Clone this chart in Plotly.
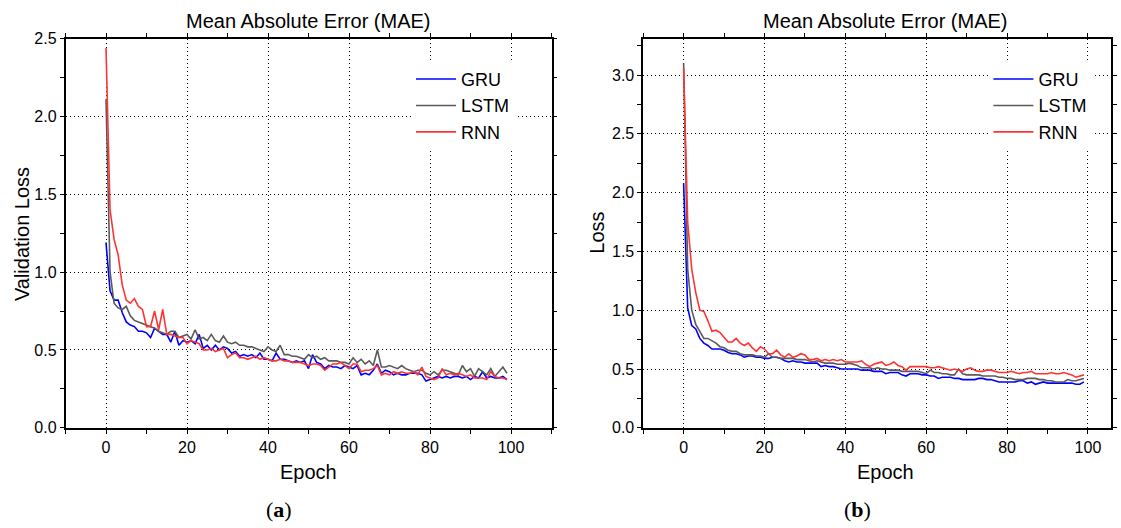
import plotly.graph_objects as go

epochs = list(range(100))

# Panel (a): Validation loss (MAE)
gru_a = [1.19, 0.88, 0.82, 0.82, 0.74, 0.68, 0.66, 0.65, 0.62, 0.62,
         0.61, 0.58, 0.64, 0.62, 0.60, 0.60, 0.55, 0.62, 0.53, 0.56,
         0.55, 0.56, 0.54, 0.60, 0.51, 0.53, 0.50, 0.53, 0.50, 0.52,
         0.51, 0.48, 0.49, 0.46, 0.47, 0.46, 0.47, 0.45, 0.48, 0.44,
         0.44, 0.43, 0.48, 0.44, 0.44, 0.43, 0.42, 0.43, 0.42, 0.43,
         0.38, 0.47, 0.42, 0.41, 0.38, 0.40, 0.39, 0.39, 0.38, 0.40,
         0.39, 0.38, 0.40, 0.34, 0.35, 0.34, 0.37, 0.41, 0.35, 0.37,
         0.36, 0.34, 0.35, 0.34, 0.34, 0.35, 0.35, 0.35, 0.34, 0.30,
         0.31, 0.32, 0.33, 0.32, 0.33, 0.32, 0.33, 0.33, 0.32, 0.33,
         0.31, 0.33, 0.32, 0.36, 0.32, 0.33, 0.32, 0.32, 0.33, 0.31]
lstm_a = [2.11, 1.00, 0.80, 0.77, 0.76, 0.78, 0.72, 0.69, 0.68, 0.67,
          0.66, 0.65, 0.64, 0.62, 0.61, 0.60, 0.62, 0.62, 0.58, 0.59,
          0.60, 0.57, 0.63, 0.57, 0.58, 0.56, 0.60, 0.56, 0.55, 0.59,
          0.55, 0.54, 0.55, 0.53, 0.53, 0.52, 0.52, 0.51, 0.50, 0.49,
          0.52, 0.50, 0.49, 0.53, 0.47, 0.47, 0.46, 0.46, 0.45, 0.44,
          0.47, 0.45, 0.46, 0.44, 0.45, 0.43, 0.43, 0.43, 0.42, 0.42,
          0.41, 0.45, 0.42, 0.44, 0.41, 0.43, 0.40, 0.50, 0.39, 0.39,
          0.40, 0.39, 0.38, 0.40, 0.38, 0.37, 0.36, 0.37, 0.37, 0.35,
          0.34, 0.36, 0.34, 0.37, 0.37, 0.36, 0.35, 0.34, 0.40, 0.36,
          0.38, 0.33, 0.38, 0.36, 0.34, 0.38, 0.33, 0.36, 0.39, 0.35]
rnn_a = [2.44, 1.40, 1.21, 1.11, 0.92, 0.82, 0.80, 0.83, 0.78, 0.76,
         0.65, 0.65, 0.75, 0.63, 0.76, 0.60, 0.60, 0.59, 0.58, 0.58,
         0.54, 0.56, 0.55, 0.54, 0.50, 0.50, 0.51, 0.49, 0.50, 0.51,
         0.45, 0.47, 0.48, 0.45, 0.45, 0.44, 0.45, 0.46, 0.44, 0.45,
         0.44, 0.43, 0.43, 0.44, 0.43, 0.43, 0.42, 0.42, 0.42, 0.41,
         0.40, 0.41, 0.41, 0.40, 0.37, 0.39, 0.41, 0.41, 0.42, 0.40,
         0.38, 0.41, 0.41, 0.36, 0.37, 0.37, 0.38, 0.40, 0.34, 0.35,
         0.34, 0.36, 0.35, 0.36, 0.35, 0.35, 0.36, 0.34, 0.39, 0.33,
         0.32, 0.31, 0.32, 0.38, 0.34, 0.35, 0.34, 0.35, 0.34, 0.33,
         0.34, 0.32, 0.32, 0.32, 0.31, 0.36, 0.33, 0.32, 0.32, 0.31]

# Panel (b): Training loss (MAE)
gru_b = [2.08, 1.02, 0.87, 0.84, 0.76, 0.72, 0.70, 0.67, 0.67, 0.67,
         0.66, 0.64, 0.63, 0.63, 0.62, 0.60, 0.61, 0.61, 0.60, 0.60,
         0.59, 0.59, 0.60, 0.60, 0.59, 0.57, 0.56, 0.57, 0.56, 0.56,
         0.55, 0.55, 0.55, 0.55, 0.52, 0.53, 0.52, 0.52, 0.51, 0.50,
         0.50, 0.50, 0.50, 0.50, 0.49, 0.49, 0.49, 0.48, 0.48, 0.48,
         0.46, 0.47, 0.47, 0.47, 0.45, 0.44, 0.46, 0.46, 0.46, 0.45,
         0.45, 0.44, 0.44, 0.42, 0.43, 0.43, 0.43, 0.42, 0.42, 0.41,
         0.41, 0.41, 0.41, 0.42, 0.42, 0.41, 0.41, 0.40, 0.39, 0.39,
         0.39, 0.39, 0.39, 0.40, 0.40, 0.38, 0.39, 0.37, 0.38, 0.39,
         0.38, 0.38, 0.38, 0.38, 0.38, 0.38, 0.38, 0.37, 0.37, 0.39]
lstm_b = [3.10, 1.35, 1.00, 0.88, 0.82, 0.76, 0.76, 0.74, 0.72, 0.69,
          0.68, 0.66, 0.65, 0.65, 0.63, 0.62, 0.62, 0.62, 0.61, 0.61,
          0.60, 0.63, 0.60, 0.60, 0.59, 0.59, 0.59, 0.59, 0.58, 0.58,
          0.58, 0.57, 0.56, 0.57, 0.56, 0.55, 0.55, 0.55, 0.54, 0.54,
          0.54, 0.55, 0.54, 0.53, 0.51, 0.51, 0.51, 0.50, 0.51, 0.50,
          0.50, 0.49, 0.49, 0.49, 0.48, 0.48, 0.48, 0.48, 0.48, 0.47,
          0.46, 0.49, 0.47, 0.47, 0.46, 0.46, 0.45, 0.45, 0.50, 0.46,
          0.45, 0.45, 0.45, 0.45, 0.44, 0.44, 0.44, 0.44, 0.43, 0.43,
          0.42, 0.42, 0.41, 0.41, 0.41, 0.42, 0.42, 0.42, 0.41, 0.41,
          0.40, 0.40, 0.39, 0.39, 0.39, 0.41, 0.40, 0.40, 0.41, 0.42]
rnn_b = [3.06, 1.75, 1.35, 1.15, 1.00, 0.99, 0.91, 0.82, 0.83, 0.81,
         0.77, 0.73, 0.73, 0.76, 0.72, 0.70, 0.72, 0.68, 0.65, 0.69,
         0.67, 0.63, 0.63, 0.66, 0.62, 0.60, 0.63, 0.60, 0.61, 0.63,
         0.62, 0.58, 0.58, 0.59, 0.57, 0.58, 0.57, 0.58, 0.57, 0.58,
         0.56, 0.56, 0.56, 0.56, 0.57, 0.54, 0.52, 0.54, 0.55, 0.56,
         0.53, 0.54, 0.56, 0.53, 0.52, 0.49, 0.52, 0.52, 0.52, 0.52,
         0.52, 0.51, 0.51, 0.52, 0.51, 0.50, 0.49, 0.50, 0.49, 0.48,
         0.50, 0.51, 0.49, 0.48, 0.48, 0.49, 0.49, 0.48, 0.47, 0.47,
         0.47, 0.48, 0.47, 0.46, 0.47, 0.47, 0.48, 0.46, 0.46, 0.46,
         0.46, 0.47, 0.46, 0.46, 0.47, 0.46, 0.45, 0.43, 0.44, 0.45]

series_names = ["GRU", "LSTM", "RNN"]
series_colors = ["#0000FF", "#5A5A5A", "#FF3333"]

W, H = 1121, 528
FONT = "Arial, 'Liberation Sans', sans-serif"
SERIF = "'Liberation Serif', 'DejaVu Serif', serif"

fig = go.Figure()

for vals, name, col in zip([gru_a, lstm_a, rnn_a], series_names, series_colors):
    fig.add_trace(go.Scatter(x=epochs, y=vals, mode="lines", name=name,
                             line=dict(color=col, width=1.6),
                             xaxis="x", yaxis="y", legend="legend"))
for vals, name, col in zip([gru_b, lstm_b, rnn_b], series_names, series_colors):
    fig.add_trace(go.Scatter(x=epochs, y=vals, mode="lines", name=name,
                             line=dict(color=col, width=1.6),
                             xaxis="x2", yaxis="y2", legend="legend2"))


def px_x(p):
    return p / W


def px_y(p):
    # the page is shown with an 8 px band above and below the figure,
    # so map a target screen row into figure coordinates
    d = (p - 8.0) * 528.0 / 512.0
    return 1 - d / H


y_bot, y_top = px_y(428.6), px_y(38.7)

common_axis = dict(
    showline=True, linecolor="black", linewidth=1.5, mirror="ticks",
    ticks="outside", ticklen=4, tickwidth=1.2, tickcolor="black",
    showgrid=True, gridcolor="black", gridwidth=1, griddash="1px,3px",
    zeroline=False, tickfont=dict(family=FONT, size=16, color="black"),
)
minor_x = dict(dtick=10, ticks="outside", ticklen=4, tickwidth=1.2, tickcolor="black", showgrid=False)
minor_y = dict(dtick=0.25, ticks="outside", ticklen=4, tickwidth=1.2, tickcolor="black", showgrid=False)

legend_common = dict(xanchor="left", yanchor="top", bgcolor="white", borderwidth=0,
                     font=dict(family=FONT, size=18, color="black"),
                     tracegroupgap=0, itemwidth=40)

legend_top = 1 - 54.6 / H

fig.update_layout(
    width=W, height=H,
    margin=dict(l=0, r=0, t=0, b=0),
    paper_bgcolor="white", plot_bgcolor="white",
    font=dict(family=FONT, color="black"),
    xaxis=dict(domain=[px_x(65.5), px_x(551.5)], range=[-10, 110], dtick=20,
               minor=minor_x, anchor="y", **common_axis),
    yaxis=dict(domain=[y_bot, y_top], range=[0, 2.5], dtick=0.5, tickformat=".1f",
               minor=minor_y, anchor="x", **common_axis),
    xaxis2=dict(domain=[px_x(643.2), px_x(1111.0)], range=[-10, 105.7], dtick=20,
                minor=minor_x, anchor="y2", **common_axis),
    yaxis2=dict(domain=[y_bot, y_top], range=[0, 3.31], dtick=0.5, tickformat=".1f",
                minor=minor_y, anchor="x2", **common_axis),
    legend=dict(x=px_x(411), y=legend_top, **legend_common),
    legend2=dict(x=px_x(988.4), y=legend_top, **legend_common),
    showlegend=True,
)

texts = [
    ("Mean Absolute Error (MAE)", 308.5, 21.5, 20, 0),
    ("Mean Absolute Error (MAE)", 885.0, 21.5, 20, 0),
    ("Epoch", 308.5, 473, 20, 0),
    ("Epoch", 885.0, 473, 20, 0),
    ("Validation Loss", 22, 234.5, 20, -90),
    ("Loss", 597.5, 233.6, 20, -90),
]
for t, x, y, s, ang in texts:
    fig.add_annotation(text=t, x=px_x(x), y=px_y(y), xref="paper", yref="paper",
                       xanchor="center", yanchor="middle", showarrow=False, textangle=ang,
                       font=dict(family=FONT, size=s, color="black"))

for t, x in [("(<b>a</b>)", 279), ("(<b>b</b>)", 857)]:
    fig.add_annotation(text=t, x=px_x(x), y=1 - 518.5 / H, xref="paper", yref="paper",
                       xanchor="center", yanchor="middle", showarrow=False,
                       font=dict(family=SERIF, size=22, color="black"))

fig.write_html("out.html", config={"displayModeBar": False},
               post_script="document.body.style.margin='0px';")
